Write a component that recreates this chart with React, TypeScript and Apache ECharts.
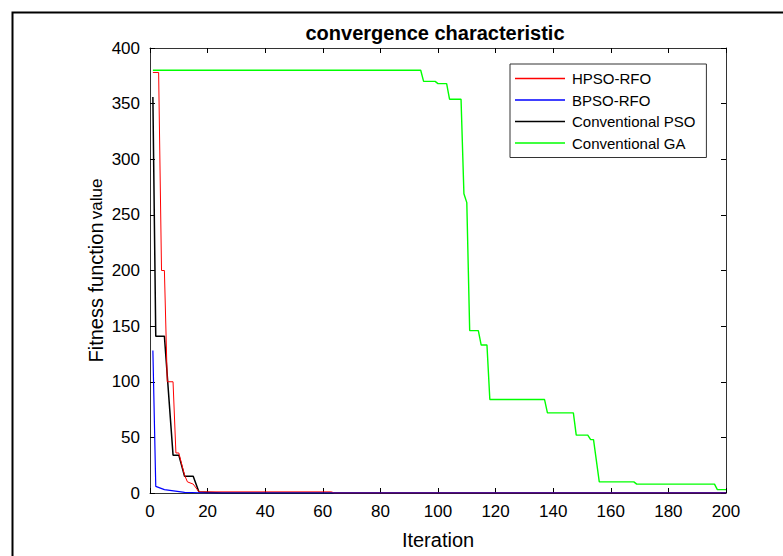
import React, { useEffect, useRef } from "react";
import * as echarts from "echarts";

const xTicks = [0, 20, 40, 60, 80, 100, 120, 140, 160, 180, 200];
const yTicks = [0, 50, 100, 150, 200, 250, 300, 350, 400];

const hpsoIter = [1, 3, 4, 5, 6, 8, 9, 10, 12, 13, 15, 17, 63, 64, 200];
const hpsoVal = [378, 378, 200, 200, 100, 100, 36, 36, 16, 10, 8, 1, 1, 0, 0];

const bpsoIter = [1, 2, 5, 12, 20, 200];
const bpsoVal = [128, 6, 3, 0.5, 0, 0];

const psoIter = [1, 2, 5, 8, 10, 12, 15, 17, 25, 200];
const psoVal = [356, 141, 141, 34, 34, 15, 15, 1, 0, 0];

const gaIter = [1, 94, 95, 99, 100, 103, 104, 108, 109, 110, 111, 114, 115, 117, 118, 137, 138, 147, 148, 152, 153, 154, 156, 168, 169, 196, 197, 200];
const gaVal = [380, 380, 370, 370, 368, 368, 354, 354, 269, 261, 146, 146, 133, 133, 84, 84, 72, 72, 52, 52, 48, 48, 10, 10, 8, 8, 3, 3];

const zip = (xs: number[], ys: number[]) => xs.map((x, i) => [x, ys[i]]);

const FONT = '"Liberation Sans", Arial, sans-serif';

export default function App() {
  const ref = useRef<HTMLDivElement>(null);
  useEffect(() => {
    if (!ref.current) return;
    const chart = echarts.init(ref.current, null, { renderer: "svg" });
    const axisLine = { show: true, onZero: false, lineStyle: { color: "#333", width: 1 } };
    const tick = { show: true, inside: true, length: 5, lineStyle: { color: "#000" } };
    const xBase = { type: "value", min: xTicks[0], max: xTicks[xTicks.length - 1], interval: 20, splitLine: { show: false } };
    const yBase = { type: "value", min: yTicks[0], max: yTicks[yTicks.length - 1], interval: 50, splitLine: { show: false } };
    const line = (name: string, data: number[][], color: string, width: number, z: number) => ({
      name,
      type: "line",
      data,
      showSymbol: false,
      symbol: "none",
      z,
      lineStyle: { color, width },
      itemStyle: { color },
    });
    chart.setOption({
      animation: false,
      backgroundColor: "#fff",
      textStyle: { fontFamily: FONT },
      title: {
        text: "convergence characteristic",
        left: 430,
        textAlign: "center",
        top: 18,
        textStyle: { fontFamily: FONT, fontSize: 20, fontWeight: "bold", color: "#000" },
      },
      grid: { left: 150, top: 48, right: 57, bottom: 63, containLabel: false },
      legend: {
        orient: "vertical",
        left: 510,
        top: 64,
        padding: [7, 11, 7, 5],
        itemWidth: 50,
        itemHeight: 14,
        itemGap: 6.5,
        icon: "path://M0 0 L50 0 L50 1.5 L0 1.5 Z",
        symbolKeepAspect: true,
        backgroundColor: "#fff",
        borderColor: "#333",
        borderWidth: 1,
        textStyle: { fontFamily: FONT, fontSize: 15, color: "#000", padding: [0, 0, 0, 2] },
        data: ["HPSO-RFO", "BPSO-RFO", "Conventional PSO", "Conventional GA"],
      },
      xAxis: [
        {
          ...xBase,
          position: "bottom",
          axisLine,
          axisTick: tick,
          axisLabel: { fontFamily: FONT, fontSize: 17, color: "#000", margin: 10 },
          name: "Iteration",
          nameLocation: "middle",
          nameGap: 37,
          nameTextStyle: { fontFamily: FONT, fontSize: 20, color: "#000" },
        },
        {
          ...xBase,
          position: "top",
          axisLine,
          axisTick: tick,
          axisLabel: { show: false },
        },
      ],
      yAxis: [
        {
          ...yBase,
          position: "left",
          axisLine,
          axisTick: tick,
          axisLabel: { fontFamily: FONT, fontSize: 17, color: "#000", margin: 10 },
          name: "{a|Fitness function} {b|value}",
          nameLocation: "middle",
          nameRotate: 90,
          nameGap: 44,
          nameMoveOverlap: false,
          nameTextStyle: {
            color: "#000",
            rich: {
              a: { fontFamily: FONT, fontSize: 20, color: "#000" },
              b: { fontFamily: FONT, fontSize: 17, color: "#000" },
            },
          },
        },
        {
          ...yBase,
          position: "right",
          axisLine,
          axisTick: tick,
          axisLabel: { show: false },
        },
      ],
      series: [
        line("HPSO-RFO", zip(hpsoIter, hpsoVal), "#ff0000", 1, 3),
        line("BPSO-RFO", zip(bpsoIter, bpsoVal), "#0000ff", 1.2, 4),
        line("Conventional PSO", zip(psoIter, psoVal), "#000000", 1.5, 2),
        line("Conventional GA", zip(gaIter, gaVal), "#00ff00", 1.4, 3),
      ],
      graphic: [
        {
          type: "rect",
          left: 10,
          top: 10,
          shape: { x: 0, y: 0, width: 800, height: 600 },
          style: { fill: "none", stroke: "#000", lineWidth: 2 },
          silent: true,
          z: -1,
        },
      ],
    });
    return () => chart.dispose();
  }, []);
  return (
    <div
      ref={ref}
      style={{ position: "fixed", left: 0, top: 0, width: 783, height: 556, background: "#fff" }}
    />
  );
}
